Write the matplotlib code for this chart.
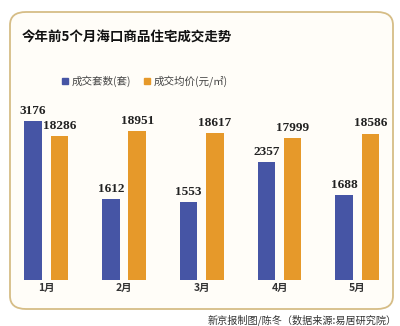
import matplotlib.pyplot as plt
from matplotlib.patches import FancyBboxPatch
import numpy as np

plt.rcParams['font.family'] = ['Noto Sans CJK SC', 'DejaVu Sans']

months = ['1月', '2月', '3月', '4月', '5月']
deals = [3176, 1612, 1553, 2357, 1688]
prices = [18286, 18951, 18617, 17999, 18586]

blue = '#4655a5'
orange = '#e6992a'

fig = plt.figure(figsize=(4, 3.26), dpi=100)
fig.patch.set_facecolor('white')

# rounded frame behind everything
frame = FancyBboxPatch((10 / 400, 1 - 309 / 326), 383 / 400, 297 / 326,
                       boxstyle='round,pad=0,rounding_size=0.04',
                       transform=fig.transFigure, facecolor='#fffdf8',
                       edgecolor='#d6bd86', linewidth=1.3, zorder=-5)
fig.patches.append(frame)

ax = fig.add_axes([7.4 / 400, 1 - 280 / 326, 388.75 / 400, 180 / 326])
ax2 = ax.twinx()
for a in (ax, ax2):
    a.set_facecolor('none')
    for s in a.spines.values():
        s.set_visible(False)
    a.set_yticks([])
ax.set_xlim(-0.5, 4.5)
ax.set_ylim(0, 3176 * 180 / 159.3)
ax2.set_ylim(0, 18951 * 180 / 149.3)

x = np.arange(len(months))
w = 0.225
b1 = ax.bar(x - 0.17, deals, w, color=blue)
b2 = ax2.bar(x + 0.17, prices, w, color=orange)

num_font = dict(family='Liberation Serif', fontweight='bold', fontsize=9.5, color='#222222')
for rect, v in zip(b1, deals):
    ax.annotate(str(v), (rect.get_x() + rect.get_width() / 2, v), xytext=(0, 3),
                textcoords='offset points', ha='center', va='bottom', **num_font)
for rect, v in zip(b2, prices):
    ax2.annotate(str(v), (rect.get_x() + rect.get_width() / 2, v), xytext=(0, 3),
                 textcoords='offset points', ha='center', va='bottom', **num_font)

ax.set_xticks(x)
ax.set_xticklabels(months, fontsize=7.5, fontweight='bold', color='#333333')
ax.tick_params(axis='x', length=0, pad=2)

fig.text(22 / 400, 1 - 38 / 326, '今年前5个月海口商品住宅成交走势', fontsize=9.7,
         fontweight='bold', color='#111111', va='center', ha='left')

# legend
fig.patches.append(plt.Rectangle((62 / 400, 1 - 84 / 326), 6 / 400, 6 / 326,
                                 transform=fig.transFigure, color=blue))
fig.text(72 / 400, 1 - 81 / 326, '成交套数(套)', fontsize=7.6, color='#444444', va='center')
fig.patches.append(plt.Rectangle((144 / 400, 1 - 84 / 326), 6 / 400, 6 / 326,
                                 transform=fig.transFigure, color=orange))
fig.text(154 / 400, 1 - 81 / 326, '成交均价(元/㎡)', fontsize=7.6, color='#444444', va='center')

fig.text(397 / 400, 1 - 320 / 326, '新京报制图/陈冬（数据来源:易居研究院）', fontsize=7.3,
         color='#333333', ha='right', va='center')

fig.savefig('out.png', dpi=100, facecolor='white')
